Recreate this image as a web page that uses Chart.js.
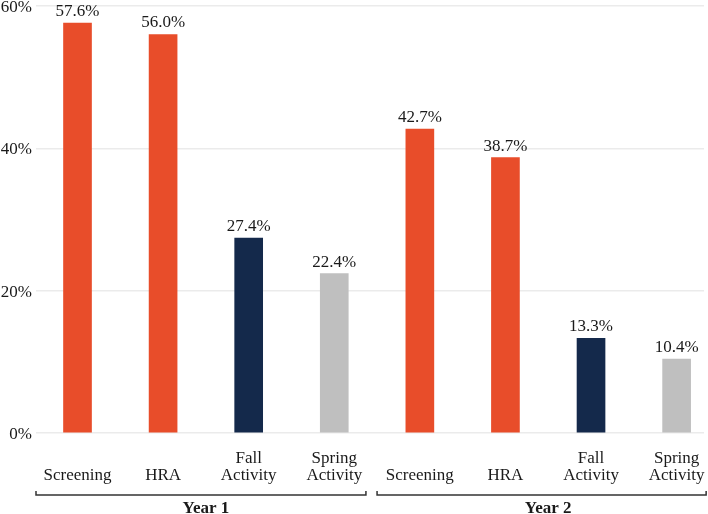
<!DOCTYPE html>
<html>
<head>
<meta charset="utf-8">
<script src="https://cdn.jsdelivr.net/npm/chart.js@4/dist/chart.umd.min.js"></script>
<style>
  html, body { margin: 0; padding: 0; background: #ffffff; }
  #wrap { width: 708px; height: 514px; position: relative; }
</style>
</head>
<body>
<div id="wrap"><canvas id="c" width="708" height="514"></canvas></div>
<script>
const categories = [
  ["", "Screening"], ["", "HRA"], ["Fall", "Activity"], ["Spring", "Activity"],
  ["", "Screening"], ["", "HRA"], ["Fall", "Activity"], ["Spring", "Activity"]
];
const values = [57.6, 56.0, 27.4, 22.4, 42.7, 38.7, 13.3, 10.4];
const barColors = ["#E84D2A", "#E84D2A", "#14294B", "#BFBFBF", "#E84D2A", "#E84D2A", "#14294B", "#BFBFBF"];
const groupNames = ["Year 1", "Year 2"];
const groupStart = [0, 4];
const groupEnd = [3, 7];
const yTicks = [0, 20, 40, 60];

const SERIF = "'Liberation Serif', 'Times New Roman', serif";

const points = values.map((v, i) => ({ x: i, y: v }));

const overlay = {
  id: 'overlay',
  afterDatasetsDraw(chart) {
    const ctx = chart.ctx;
    const xs = chart.scales.x, ys = chart.scales.y;
    const step = xs.getPixelForValue(1) - xs.getPixelForValue(0);
    // value labels
    ctx.save();
    ctx.font = "17px " + SERIF;
    ctx.fillStyle = "#1a1a1a";
    ctx.textAlign = "center";
    ctx.textBaseline = "alphabetic";
    values.forEach((v, i) => {
      const x = xs.getPixelForValue(i);
      const y = ys.getPixelForValue(v);
      ctx.fillText(v.toFixed(1) + "%", x, y - 7);
    });
    // group brackets
    const by = chart.chartArea.bottom + 62;
    ctx.strokeStyle = "#333333";
    ctx.lineWidth = 1.5;
    ctx.font = "bold 17px " + SERIF;
    ctx.textBaseline = "middle";
    groupNames.forEach((g, k) => {
      const x0 = xs.getPixelForValue(groupStart[k]) - (k === 0 ? 0.485 : 0.5) * step;
      const x1 = xs.getPixelForValue(groupEnd[k]) + (k === 0 ? 0.37 : 0.345) * step;
      ctx.beginPath();
      ctx.moveTo(x0, by - 4);
      ctx.lineTo(x0, by);
      ctx.lineTo(x1, by);
      ctx.lineTo(x1, by - 4);
      ctx.stroke();
      const cx = (xs.getPixelForValue(groupStart[k]) + xs.getPixelForValue(groupEnd[k])) / 2;
      ctx.fillText(g, cx, by + 14);
    });
    ctx.restore();
  }
};

new Chart(document.getElementById('c'), {
  type: 'bar',
  data: {
    datasets: [{
      data: points,
      backgroundColor: barColors,
      borderWidth: 0,
      barThickness: 28
    }]
  },
  options: {
    responsive: false,
    animation: false,
    layout: { padding: { top: 6, right: 4, left: 0, bottom: 0 } },
    plugins: { legend: { display: false }, tooltip: { enabled: false } },
    scales: {
      x: {
        type: 'linear',
        min: -0.485,
        max: 7.32,
        offset: false,
        grid: { display: false, drawTicks: false },
        border: { display: false },
        afterBuildTicks(scale) {
          scale.ticks = categories.map((_, i) => ({ value: i }));
        },
        afterFit(scale) {
          scale.height = 81;
          scale.paddingLeft = 0;
          scale.paddingRight = 0;
        },
        ticks: {
          autoSkip: false,
          maxRotation: 0,
          minRotation: 0,
          padding: 17,
          color: "#1a1a1a",
          font: { family: SERIF, size: 17, lineHeight: 1.0 },
          callback: (v) => categories[v] || ""
        }
      },
      y: {
        min: 0,
        max: 60,
        grid: { color: "#EBEBEB", lineWidth: 1.6, drawTicks: false },
        border: { display: false },
        afterBuildTicks(scale) {
          scale.ticks = yTicks.map(v => ({ value: v }));
        },
        afterFit(scale) {
          scale.width = 36;
          scale.paddingTop = 0;
          scale.paddingBottom = 0;
        },
        ticks: {
          padding: 4,
          labelOffset: 1.5,
          color: "#1a1a1a",
          font: { family: SERIF, size: 17 },
          callback: (v) => v + "%"
        }
      }
    }
  },
  plugins: [overlay]
});
</script>
</body>
</html>
